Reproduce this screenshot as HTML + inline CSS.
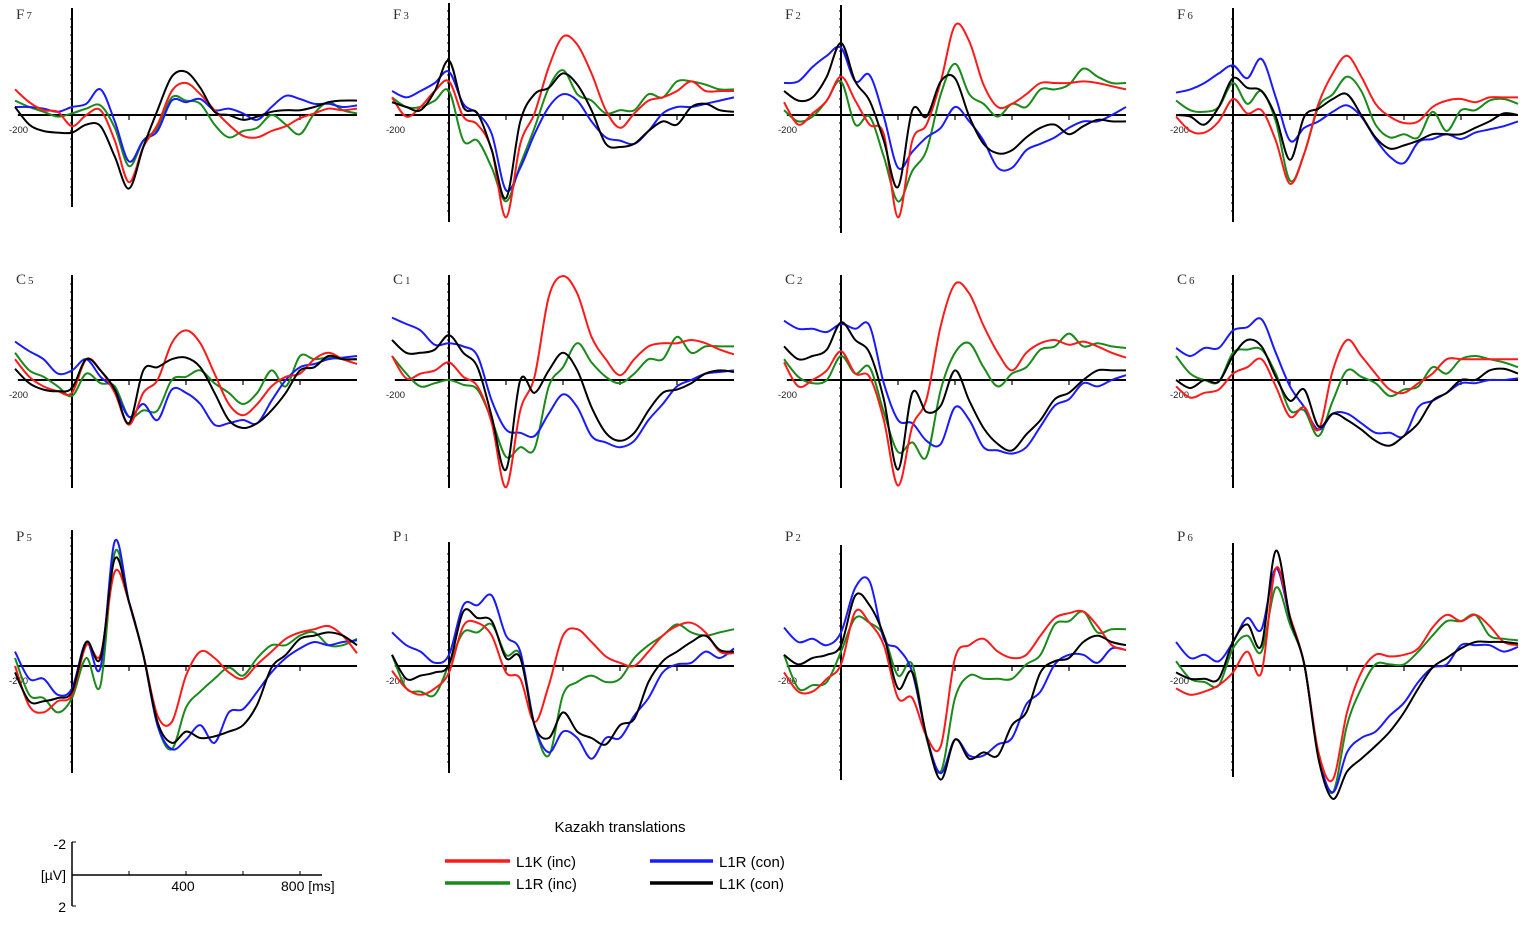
<!DOCTYPE html>
<html><head><meta charset="utf-8">
<style>
html,body{margin:0;padding:0;background:#fff;}
svg{display:block;}
text{font-family:"Liberation Sans",sans-serif;}
text.chlab{font-family:"Liberation Serif",serif;}
</style></head>
<body>
<svg id="chart" width="1535" height="926" viewBox="0 0 1535 926">
<g id="panels"></g>
<g id="scalebar">
  <line x1="72" y1="842" x2="72" y2="906" stroke="#000" stroke-width="1.5"/>
  <line x1="72" y1="842" x2="76" y2="842" stroke="#000"/>
  <line x1="72" y1="906" x2="76" y2="906" stroke="#000"/>
  <line x1="72" y1="875" x2="322" y2="875" stroke="#000" stroke-width="1.5"/>
  <line x1="129" y1="871" x2="129" y2="875" stroke="#000"/>
  <line x1="186" y1="871" x2="186" y2="875" stroke="#000"/>
  <line x1="243" y1="871" x2="243" y2="875" stroke="#000"/>
  <line x1="300" y1="871" x2="300" y2="875" stroke="#000"/>
  <text x="66" y="849" font-size="14" text-anchor="end">-2</text>
  <text x="66" y="880" font-size="14" text-anchor="end">[µV]</text>
  <text x="66" y="912" font-size="14" text-anchor="end">2</text>
  <text x="183" y="891" font-size="14" text-anchor="middle">400</text>
  <text x="281" y="891" font-size="14">800 [ms]</text>
</g>
<g id="legend">
  <text x="620" y="832" font-size="15" text-anchor="middle">Kazakh translations</text>
  <g><line x1="445" y1="861" x2="510" y2="861" stroke="#ff1a1a" stroke-width="3.5"/><text x="516" y="867" font-size="15">L1K (inc)</text></g>
  <g><line x1="445" y1="883" x2="510" y2="883" stroke="#1a8a1a" stroke-width="3.5"/><text x="516" y="889" font-size="15">L1R (inc)</text></g>
  <g><line x1="650" y1="861" x2="713" y2="861" stroke="#1a1aff" stroke-width="3.5"/><text x="719" y="867" font-size="15">L1R (con)</text></g>
  <g><line x1="650" y1="883" x2="713" y2="883" stroke="#000" stroke-width="3.5"/><text x="719" y="889" font-size="15">L1K (con)</text></g>
</g>
</svg>
<script>
const times = [-200,-150,-100,-50,0,50,100,150,200,250,300,350,400,450,500,550,600,650,700,750,800,850,900,950,1000];
const channels = ["F7","F3","F2","F6","C5","C1","C2","C6","P5","P1","P2","P6"];
const seriesNames = ["L1K (inc)","L1K (con)","L1R (con)","L1R (inc)"];
const tickTimes = [200,400,600,800];
// values in µV (negative plotted up); order per channel: red, black, blue, green
const redL1Kinc = [
 [-1.6,-0.8,-0.3,-0.2,0.7,0.0,-0.3,1.6,4.2,2.0,0.6,-1.5,-2.0,-1.3,-0.3,0.6,1.3,1.4,1.0,0.7,0.2,-0.1,-0.4,-0.3,-0.4],
 [-1.1,0.1,-0.5,-1.5,-2.1,0.1,0.6,2.2,6.4,1.8,-0.1,-3.0,-4.9,-4.4,-2.6,-0.3,0.8,-0.1,-0.9,-1.1,-1.5,-2.1,-1.5,-1.5,-1.5],
 [-0.8,0.6,-0.1,-0.9,-2.4,-0.9,0.6,1.2,6.4,1.6,0.6,-2.1,-5.6,-4.6,-1.9,-0.5,-0.7,-1.3,-2.0,-2.0,-2.0,-2.1,-2.0,-1.8,-1.6],
 [0.1,1.0,1.1,0.4,-1.0,-0.1,-0.3,1.6,4.3,2.4,-0.7,-2.6,-3.7,-2.4,-0.7,0.1,0.5,0.4,-0.5,-0.9,-1.0,-0.8,-1.1,-1.1,-1.1],
 [-1.3,-0.2,0.4,0.7,0.8,-1.3,-0.6,0.8,2.8,0.8,0.0,-2.3,-3.1,-2.3,-0.4,1.5,2.2,1.5,0.4,-0.2,-0.4,-1.3,-1.7,-1.3,-1.0],
 [-1.5,-0.1,-0.4,-0.6,-1.1,-0.2,0.4,2.7,6.7,1.9,-0.2,-5.2,-6.5,-5.4,-2.7,-1.3,-0.3,-1.3,-2.1,-2.3,-2.3,-2.5,-2.3,-1.9,-1.6],
 [-1.1,0.4,0.0,-0.6,-1.8,-0.4,-0.2,2.5,6.6,2.9,1.2,-3.4,-6.0,-5.4,-3.4,-1.7,-0.6,-1.7,-2.3,-2.5,-2.2,-2.4,-2.1,-1.7,-1.4],
 [0.4,1.1,0.8,0.6,-0.4,-0.8,-1.3,0.4,2.3,1.7,3.1,-0.6,-2.5,-1.5,-0.4,0.6,0.8,0.2,-0.4,-1.3,-1.3,-1.3,-1.3,-1.3,-1.3],
 [0.0,2.5,2.9,2.2,1.8,-1.3,-0.7,-5.9,-4.0,-0.7,3.1,3.5,0.6,-0.9,-0.5,0.4,0.8,-0.1,-0.9,-1.7,-2.1,-2.3,-2.5,-1.9,-0.8],
 [0.3,1.4,1.8,1.4,0.4,-2.5,-2.7,-1.9,0.4,0.8,3.5,1.2,-1.9,-2.3,-1.5,-0.6,-0.2,0.0,-0.9,-1.9,-2.5,-2.7,-2.1,-0.9,-0.8],
 [0.4,1.6,1.6,0.8,-0.1,-3.4,-2.7,-1.3,2.0,2.0,4.4,5.0,-0.5,-1.3,-1.7,-0.9,-0.5,-0.7,-1.9,-3.0,-3.3,-3.4,-2.5,-1.3,-1.0],
 [1.4,1.8,1.6,1.2,0.4,-0.9,0.4,-6.1,-3.1,-0.1,5.4,7.1,2.9,0.4,-0.7,-0.6,-0.7,-1.1,-2.4,-3.2,-2.8,-3.2,-2.5,-1.5,-1.3]
];
const blackL1Kcon = [
 [-0.5,0.6,1.0,1.1,1.1,0.6,0.7,2.6,4.6,2.0,-0.3,-2.4,-2.7,-1.7,-0.2,0.0,0.3,0.1,-0.2,-0.3,-0.3,-0.5,-0.8,-0.9,-0.9],
 [-0.8,-0.5,-0.3,-1.5,-3.4,-0.5,-0.1,2.2,5.2,0.4,-1.3,-1.7,-2.6,-1.9,-0.3,1.8,2.0,1.8,1.0,0.4,0.6,-0.5,-0.7,-0.3,-0.2],
 [-1.5,-0.9,-1.1,-2.4,-4.5,-2.1,-0.9,1.6,4.5,-0.3,0.1,-2.1,-2.3,0.1,1.8,2.4,2.2,1.4,0.8,0.6,1.2,0.7,0.3,0.4,0.4],
 [0.0,0.1,0.6,-0.5,-2.3,-1.7,-1.5,0.1,2.8,0.1,-0.4,-1.0,-1.3,0.0,1.4,2.1,1.9,1.6,1.2,1.2,1.2,0.8,0.4,-0.1,0.0],
 [-0.7,0.2,0.6,0.7,0.5,-1.3,-0.6,0.6,2.7,-0.6,-0.8,-1.3,-1.4,-0.8,0.8,2.5,3.0,2.7,1.9,0.8,-0.6,-0.8,-1.5,-1.3,-1.3],
 [-2.5,-1.7,-1.7,-1.9,-2.8,-1.7,-0.8,2.3,5.6,0.0,0.8,-0.6,-1.7,-0.6,1.7,3.3,3.8,3.3,1.9,0.8,0.6,0.2,-0.4,-0.6,-0.5],
 [-2.1,-1.3,-1.5,-1.9,-3.6,-2.5,-1.7,1.2,5.6,0.8,2.0,1.6,-0.6,1.3,3.0,4.0,4.4,3.4,2.5,1.2,0.8,0.0,-0.6,-0.6,-0.6],
 [0.0,0.5,0.0,0.1,-1.5,-2.5,-2.1,-0.2,1.3,0.6,2.9,2.1,2.5,3.1,3.8,4.1,3.5,2.7,1.3,0.8,0.0,0.0,-0.6,-0.7,-0.4],
 [0.4,2.2,2.2,2.0,1.6,-1.5,-0.5,-6.7,-4.0,-0.7,3.5,4.8,4.1,4.5,4.4,4.1,3.7,2.4,0.1,-0.7,-1.7,-1.9,-2.1,-1.9,-1.3],
 [-0.7,0.8,0.6,0.4,-0.1,-3.4,-3.0,-2.8,-0.5,-0.5,3.7,4.5,2.9,4.1,4.5,4.9,3.7,3.3,1.0,-0.3,-0.9,-1.5,-1.9,-1.0,-0.9],
 [-0.7,-0.1,-0.5,-0.7,-1.3,-4.4,-3.8,-1.9,1.4,0.4,4.4,7.1,4.6,5.8,5.4,5.6,3.7,2.9,0.4,-0.3,-0.5,-1.5,-1.9,-1.5,-1.3],
 [0.4,0.8,0.8,0.8,-1.5,-2.6,-1.3,-7.2,-3.0,-0.1,5.8,8.3,6.6,5.8,5.0,4.1,2.9,1.4,0.1,-0.5,-1.1,-1.5,-1.5,-1.5,-1.4]
];
const blueL1Rcon = [
 [-0.5,-0.5,-0.4,-0.2,-0.5,-0.7,-1.6,0.4,2.9,1.6,1.0,-0.9,-0.8,-1.0,-0.3,-0.4,-0.1,0.3,-0.5,-1.2,-1.0,-0.7,-0.7,-0.5,-0.6],
 [-1.5,-1.1,-1.5,-2.0,-2.7,-0.7,-0.1,1.2,4.7,3.3,1.2,-0.5,-1.3,-0.9,0.4,1.4,1.6,1.8,1.0,-0.1,-0.5,-0.5,-0.7,-0.9,-1.1],
 [-2.0,-2.1,-3.0,-3.7,-4.2,-2.1,-2.5,0.1,3.3,2.3,1.4,0.8,-0.5,0.4,1.6,3.3,3.3,2.2,1.8,1.4,0.8,0.4,0.4,0.0,-0.5],
 [-1.4,-1.6,-2.0,-2.6,-3.1,-2.3,-3.5,-1.1,1.6,0.8,0.4,-0.2,-0.6,0.1,1.5,2.6,3.0,1.7,1.5,1.2,1.5,1.1,0.9,0.7,0.4],
 [-2.4,-1.8,-1.3,-0.4,-0.6,-1.3,-0.2,0.6,2.3,1.5,2.5,0.6,0.8,1.5,2.8,2.7,2.5,2.7,1.3,0.0,-0.8,-1.0,-1.3,-1.4,-1.5],
 [-3.9,-3.5,-3.1,-2.2,-2.3,-2.1,-1.5,1.3,3.1,3.3,3.5,2.1,0.9,1.7,3.5,3.9,4.2,3.8,2.5,1.5,0.4,0.0,-0.4,-0.5,-0.6],
 [-3.7,-3.2,-3.2,-3.0,-3.5,-3.2,-3.4,0.2,2.5,2.7,3.8,4.0,1.7,2.5,4.2,4.4,4.6,4.2,2.9,1.6,1.2,0.2,0.4,0.0,-0.3],
 [-2.0,-1.5,-2.0,-2.0,-3.1,-3.3,-3.8,-1.7,0.4,1.7,3.1,2.1,2.1,2.7,3.3,3.3,3.5,1.7,1.3,0.8,0.2,0.2,0.0,0.0,-0.1],
 [-0.9,0.8,0.8,1.8,1.4,-1.5,0.1,-7.8,-4.0,-0.7,3.7,5.2,4.6,3.7,4.8,2.9,2.7,1.6,0.4,-0.5,-1.1,-1.5,-1.3,-1.5,-1.6],
 [-2.1,-1.3,-0.9,-0.2,-0.7,-3.8,-3.8,-4.4,-1.9,-0.9,3.7,5.4,4.1,4.5,5.8,4.5,4.5,3.1,2.0,0.4,-0.1,-0.2,-0.9,-0.5,-1.1],
 [-2.4,-1.5,-1.7,-1.3,-2.1,-4.9,-5.3,-1.7,-1.1,0.4,4.4,6.7,4.6,5.6,5.6,4.9,4.5,2.4,1.6,-0.1,-0.7,-0.7,-0.2,-1.1,-1.0],
 [-1.5,-0.5,-0.7,-0.3,-1.5,-3.0,-2.3,-6.1,-3.0,-0.1,5.6,7.9,5.4,4.5,4.1,3.1,2.3,1.0,0.1,-0.1,-1.3,-1.3,-1.3,-0.9,-1.2]
];
const greenL1Rinc = [
 [-0.9,-0.5,-0.2,0.1,-0.1,-0.4,-0.6,0.8,3.2,1.6,0.8,-1.1,-0.9,-0.7,0.6,1.4,1.0,0.8,0.0,0.6,1.2,-0.1,-0.8,-0.3,-0.1],
 [-1.1,-0.5,-0.5,-0.9,-1.5,1.6,1.6,3.3,5.4,3.1,0.8,-1.7,-2.8,-1.3,-0.9,-0.1,-0.3,-0.3,-1.3,-1.1,-2.1,-2.1,-1.9,-1.6,-1.6],
 [-0.3,0.4,0.1,-0.9,-2.1,0.6,0.1,2.6,5.4,3.5,2.2,-1.3,-3.2,-1.3,-0.7,0.1,-0.7,-0.5,-1.6,-1.6,-1.9,-2.9,-2.4,-2.0,-2.0],
 [-0.9,-0.3,-0.2,-0.5,-2.0,-0.7,-1.5,0.4,4.1,2.4,-0.5,-1.3,-2.4,-1.5,0.6,1.4,1.2,1.4,-0.2,1.0,-0.3,-0.3,-0.9,-1.0,-0.7],
 [-1.7,-0.6,-0.2,0.4,1.0,-0.4,0.2,0.4,2.3,1.9,1.9,0.0,-0.2,-0.6,0.2,0.8,1.5,0.8,-0.6,0.4,-1.5,-1.3,-1.4,-1.3,-1.3],
 [-1.5,-0.4,0.4,0.2,0.0,0.3,0.6,2.5,4.8,4.2,4.3,0.4,-0.8,-2.3,-1.1,-0.2,0.2,-0.4,-1.3,-1.3,-2.7,-1.7,-2.1,-2.1,-2.1],
 [-1.3,-0.2,0.2,0.0,-1.5,-0.4,-0.8,2.0,4.5,3.9,4.8,0.6,-1.7,-2.3,-0.8,0.4,-0.4,-0.8,-1.9,-2.1,-2.9,-2.1,-2.3,-2.1,-2.0],
 [-1.5,-0.4,0.0,0.1,-1.7,-1.9,-1.9,-0.4,1.9,1.9,3.5,1.3,-0.6,-0.2,0.2,1.0,0.6,0.4,-0.8,-0.4,-1.3,-1.5,-1.3,-1.1,-0.8],
 [-0.5,1.8,2.0,2.9,2.0,-0.5,1.2,-7.1,-4.0,-0.7,3.7,5.2,2.6,1.6,0.8,0.1,0.6,-0.5,-1.3,-1.3,-1.9,-2.1,-1.3,-1.3,-1.7],
 [-0.7,1.4,1.6,1.8,-0.1,-2.1,-2.1,-2.6,-0.7,-0.7,3.7,5.6,1.8,1.0,0.6,1.0,0.8,-0.5,-1.3,-1.9,-2.6,-2.1,-1.9,-2.1,-2.3],
 [-0.7,1.4,1.2,1.0,-0.9,-3.0,-2.7,-1.9,0.6,-0.1,4.5,6.6,2.0,0.6,0.8,0.8,0.8,-0.1,-0.7,-2.6,-2.8,-3.4,-2.1,-2.3,-2.3],
 [-0.3,0.8,1.0,1.2,-1.1,-1.9,-0.9,-4.9,-2.6,-0.1,5.6,7.9,3.7,1.4,-0.1,-0.1,-0.1,-0.9,-1.9,-2.8,-2.8,-3.2,-1.9,-1.7,-1.6]
];

const NS = "http://www.w3.org/2000/svg";
const colX0 = [72,449,841,1233];
const rowBase = [115,380,666];
const axTop = [[8,3,5,8],[275,275,275,275],[530,542,545,543]];
const axBot = [[207,222,233,222],[488,488,488,488],[773,773,780,777]];
const PXMS = 0.285, PXUV = 16;
const colors = ["#ff1a1a","#000000","#1a1aff","#1a8a1a"];
const seriesKeys = ["l1k-inc","l1k-con","l1r-con","l1r-inc"];
const allSeries = [redL1Kinc, blackL1Kcon, blueL1Rcon, greenL1Rinc];
const root = document.getElementById("panels");

function mk(tag, attrs, parent){
  const e = document.createElementNS(NS, tag);
  for (const k in attrs) e.setAttribute(k, attrs[k]);
  parent.appendChild(e);
  return e;
}
function smoothPath(pts){
  let d = "M" + pts[0][0].toFixed(1) + "," + pts[0][1].toFixed(1);
  for (let i = 0; i < pts.length - 1; i++){
    const p0 = pts[Math.max(0,i-1)], p1 = pts[i], p2 = pts[i+1], p3 = pts[Math.min(pts.length-1,i+2)];
    const c1x = p1[0] + (p2[0]-p0[0])/6, c1y = p1[1] + (p2[1]-p0[1])/6;
    const c2x = p2[0] - (p3[0]-p1[0])/6, c2y = p2[1] - (p3[1]-p1[1])/6;
    d += " C" + c1x.toFixed(1)+","+c1y.toFixed(1)+" "+c2x.toFixed(1)+","+c2y.toFixed(1)+" "+p2[0].toFixed(1)+","+p2[1].toFixed(1);
  }
  return d;
}

channels.forEach((ch, idx) => {
  const r = Math.floor(idx/4), c = idx % 4;
  const x0 = colX0[c], yb = rowBase[r];
  const xs = t => x0 + t*PXMS;
  const ys = v => yb + v*PXUV;
  const g = mk("g", {}, root);
  
  
  const lab = mk("text", {x: x0-56, y: (r===2? yb-125 : yb-96), "font-size":"15", fill:"#333", "class":"chlab"}, g);
  
  
  lab.textContent = ch[0];
  const sub = mk("tspan", {"font-size":"11", dx:"2"}, lab);
  sub.textContent = ch.slice(1);
  const bl = mk("line", {x1: xs(-190), y1: yb, x2: xs(1000), y2: yb, stroke:"#000", "stroke-width":"2"}, g);
  
  
  tickTimes.forEach(t => {
    const tk = mk("line", {x1: xs(t), y1: yb, x2: xs(t), y2: yb+5, stroke:"#000", "stroke-width":"1.2"}, g);
    
    
  });
  const ml = mk("text", {x: xs(-200)-6, y: yb+18, "font-size":"9.5", fill:"#222"}, g);
  
  
  ml.textContent = "-200";
  const ya = mk("line", {x1: x0, y1: axTop[r][c], x2: x0, y2: axBot[r][c], stroke:"#000", "stroke-width":"2"}, g);
  
  
  for (let y = yb - 8; y > axTop[r][c]+4; y -= 8) mk("line", {x1:x0-2, y1:y, x2:x0, y2:y, stroke:"#000", "stroke-width":"1"}, g);
  for (let y = yb + 8; y < axBot[r][c]-4; y += 8) mk("line", {x1:x0-2, y1:y, x2:x0, y2:y, stroke:"#000", "stroke-width":"1"}, g);
  [3,2,0,1].forEach(s => {
    const vals = allSeries[s][idx];
    const pts = times.map((t,i) => [xs(t), ys(vals[i])]);
    const p = mk("path", {d: smoothPath(pts), fill:"none", stroke: colors[s], "stroke-width":"2", "stroke-linejoin":"round"}, g);
    
    
  });
});
</script>
</body></html>
